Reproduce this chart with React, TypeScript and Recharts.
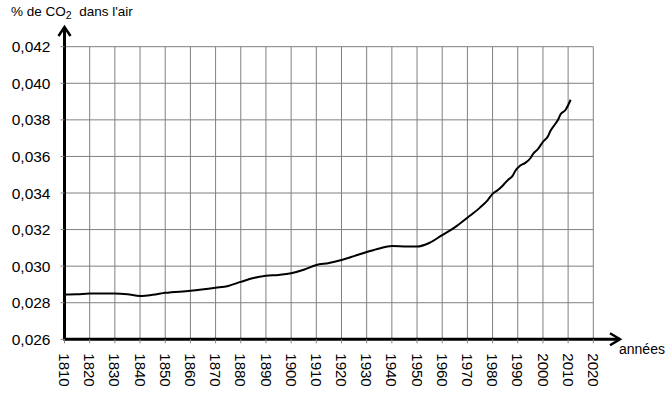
import React from 'react';
import { LineChart, Line, XAxis, YAxis, CartesianGrid, ReferenceLine } from 'recharts';

const years = [1810, 1815, 1820, 1830, 1835, 1840, 1845, 1850, 1860, 1870, 1875, 1880, 1885, 1890, 1895, 1900, 1905, 1910, 1915, 1920, 1925, 1930, 1935, 1940, 1945, 1950, 1955, 1960, 1965, 1970, 1975, 1978, 1980, 1982, 1984, 1986, 1988, 1989, 1991, 1993, 1995, 1996, 1998, 2000, 2002, 2003, 2005, 2006, 2007, 2009, 2011];
const co2 = [0.02845, 0.02846, 0.0285, 0.0285, 0.02846, 0.02837, 0.02843, 0.02854, 0.02865, 0.02882, 0.02892, 0.02914, 0.02935, 0.02947, 0.02952, 0.02961, 0.0298, 0.03006, 0.03017, 0.03034, 0.03055, 0.03077, 0.03097, 0.0311, 0.03108, 0.03107, 0.03128, 0.0317, 0.03212, 0.03265, 0.0332, 0.0336, 0.03395, 0.03415, 0.0344, 0.0347, 0.03495, 0.0352, 0.0355, 0.03565, 0.0359, 0.03612, 0.0364, 0.0368, 0.0371, 0.0374, 0.0378, 0.038, 0.0383, 0.03855, 0.0391];
const xTicks = [1810, 1820, 1830, 1840, 1850, 1860, 1870, 1880, 1890, 1900, 1910, 1920, 1930, 1940, 1950, 1960, 1970, 1980, 1990, 2000, 2010, 2020];
const yTicks = [0.026, 0.028, 0.03, 0.032, 0.034, 0.036, 0.038, 0.04, 0.042];
const xArrowEnd = 2030.6;
const yArrowEnd = 0.04308;

const data = years.map((y, i) => ({ year: y, v: co2[i] }));

const FONT = '"Liberation Sans", Arial, sans-serif';

const XTick = (props: any) => {
  const { x, y, payload } = props;
  return (
    <text
      x={0}
      y={0}
      transform={`translate(${x},${y}) rotate(90)`}
      dy="0.36em"
      textAnchor="start"
      fontFamily={FONT}
      fontSize={15}
      fill="#000"
    >
      {payload.value}
    </text>
  );
};

const HArrow = (props: any) => {
  const { x1, y1, x2, y2 } = props;
  return (
    <g>
      <line x1={x1 - 1} y1={y1} x2={x2} y2={y2} stroke="#000" strokeWidth={3} />
      <polyline points={`${x2 - 10},${y2 - 6} ${x2},${y2} ${x2 - 10},${y2 + 6}`} fill="none" stroke="#000" strokeWidth={2.5} />
    </g>
  );
};

const VArrow = (props: any) => {
  const { x1, y1, x2, y2 } = props;
  const top = Math.min(y1, y2);
  const bottom = Math.max(y1, y2);
  return (
    <g>
      <line x1={x1} y1={bottom + 1} x2={x2} y2={top} stroke="#000" strokeWidth={3} />
      <polyline points={`${x1 - 6},${top + 9} ${x1},${top} ${x1 + 6},${top + 9}`} fill="none" stroke="#000" strokeWidth={2.5} />
    </g>
  );
};

export default function App() {
  return (
    <div style={{ position: 'absolute', left: 0, top: 0, width: 671, height: 396, background: '#fff' }}>
      <LineChart
        width={671}
        height={396}
        data={data}
        margin={{ top: 46.7, right: 77.7, bottom: 16.7, left: 0 }}
      >
        <CartesianGrid stroke="#808080" strokeWidth={1} />
        <XAxis
          dataKey="year"
          type="number"
          domain={[1810, 2020]}
          ticks={xTicks}
          interval={0}
          height={40}
          axisLine={false}
          tickLine={{ stroke: '#808080' }}
          tickSize={4}
          tickMargin={10}
          tick={<XTick />}
        />
        <YAxis
          type="number"
          domain={[0.026, 0.042]}
          ticks={yTicks}
          interval={0}
          width={64.5}
          axisLine={false}
          tickLine={{ stroke: '#808080' }}
          tickSize={4}
          tickMargin={10}
          tickFormatter={(v: number) => v.toFixed(3).replace('.', ',')}
          tick={{ fontFamily: FONT, fontSize: 15.5, fill: '#000' }}
        />
        <Line
          type="monotone"
          dataKey="v"
          stroke="#000"
          strokeWidth={2}
          dot={false}
          isAnimationActive={false}
        />
        <ReferenceLine
          ifOverflow="visible"
          segment={[{ x: 1810, y: 0.026 }, { x: xArrowEnd, y: 0.026 }]}
          shape={<HArrow />}
        />
        <ReferenceLine
          ifOverflow="visible"
          segment={[{ x: 1810, y: 0.026 }, { x: 1810, y: yArrowEnd }]}
          shape={<VArrow />}
        />
      </LineChart>
      <div style={{ position: 'absolute', left: 11, top: 4, fontFamily: FONT, fontSize: 13.5, color: '#000', whiteSpace: 'nowrap', lineHeight: '16px' }}>
        % de CO<sub style={{ fontSize: 10.5, verticalAlign: 'baseline', position: 'relative', top: 3 }}>2</sub>&nbsp; dans l'air
      </div>
      <div style={{ position: 'absolute', left: 619, top: 341, fontFamily: FONT, fontSize: 14, color: '#000', whiteSpace: 'nowrap', lineHeight: '16px' }}>
        années
      </div>
    </div>
  );
}
